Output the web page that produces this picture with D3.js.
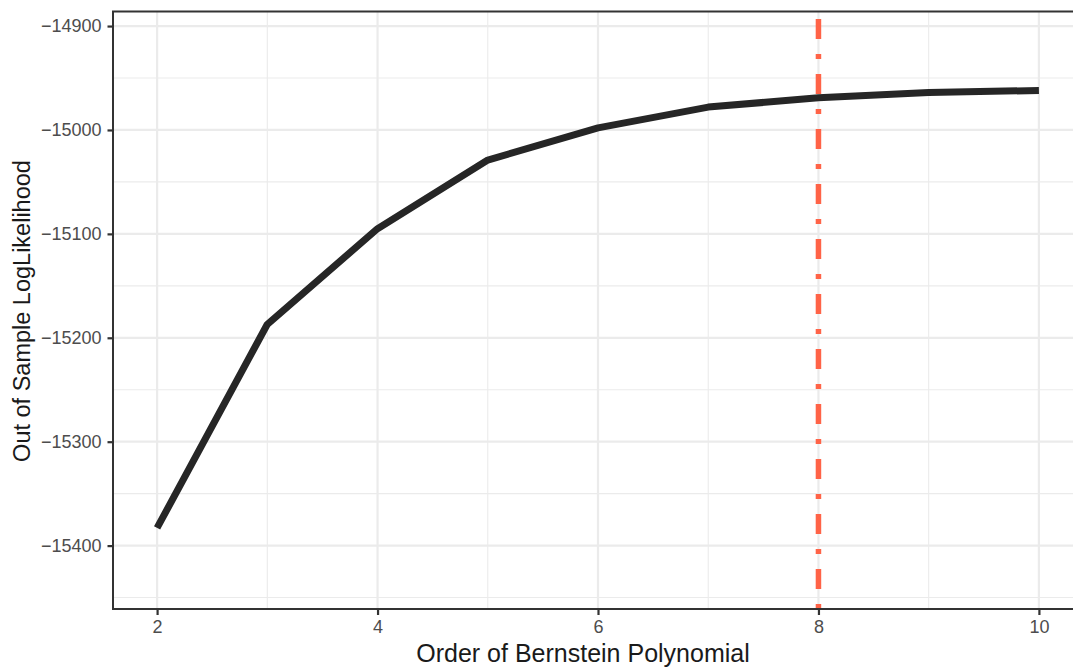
<!DOCTYPE html>
<html><head><meta charset="utf-8">
<script src="https://cdn.jsdelivr.net/npm/d3@7"></script>
<style>body{margin:0;background:#fff}svg{display:block}</style>
</head><body>
<svg id="c" width="1073" height="669"></svg>
<script>
const orders = [2, 3, 4, 5, 6, 7, 8, 9, 10];
const logLik = [-15383, -15187, -15095, -15029, -14998, -14978, -14969, -14964, -14962];
const xTicks = [2, 4, 6, 8, 10];
const xMinor = [3, 5, 7, 9];
const yTicks = [-15400, -15300, -15200, -15100, -15000, -14900];
const yMinor = [-15450, -15350, -15250, -15150, -15050, -14950];
const chosenOrder = 8;

const svg = d3.select("#c");
const L = 113, R = 1083, T = 11.5, B = 609;
const x = d3.scaleLinear().domain([1.6, 10.4]).range([L, R]);
const y = d3.scaleLinear().domain([-15461, -14886]).range([B, T]);
const font = "'Liberation Sans', Arial, Helvetica, sans-serif";

const g = svg.append("g");
// minor grid
g.selectAll(".ymin").data(yMinor).enter().append("line")
  .attr("x1", L).attr("x2", R).attr("y1", d => y(d)).attr("y2", d => y(d))
  .attr("stroke", "#EBEBEB").attr("stroke-width", 1.1);
g.selectAll(".xmin").data(xMinor).enter().append("line")
  .attr("y1", T).attr("y2", B).attr("x1", d => x(d)).attr("x2", d => x(d))
  .attr("stroke", "#EBEBEB").attr("stroke-width", 1.1);
// major grid
g.selectAll(".ymaj").data(yTicks).enter().append("line")
  .attr("x1", L).attr("x2", R).attr("y1", d => y(d)).attr("y2", d => y(d))
  .attr("stroke", "#EBEBEB").attr("stroke-width", 2.2);
g.selectAll(".xmaj").data(xTicks).enter().append("line")
  .attr("y1", T).attr("y2", B).attr("x1", d => x(d)).attr("x2", d => x(d))
  .attr("stroke", "#EBEBEB").attr("stroke-width", 2.2);

// data line
const line = d3.line().x((d, i) => x(orders[i])).y(d => y(d));
g.append("path").datum(logLik).attr("d", line)
  .attr("fill", "none").attr("stroke", "#262626").attr("stroke-width", 7)
  .attr("stroke-linejoin", "round").attr("stroke-linecap", "butt");

// vertical line (drawn bottom to top)
g.append("line").attr("x1", x(chosenOrder)).attr("x2", x(chosenOrder))
  .attr("y1", B).attr("y2", T)
  .attr("stroke", "#FF6347").attr("stroke-width", 5.5)
  .attr("stroke-dasharray", "5,15,20,15");

// panel border
g.append("rect").attr("x", L).attr("y", T).attr("width", R - L).attr("height", B - T)
  .attr("fill", "none").attr("stroke", "#333333").attr("stroke-width", 2);

// axes
const ax = svg.append("g").attr("transform", `translate(0,${B})`)
  .call(d3.axisBottom(x).tickValues(xTicks).tickSize(6).tickPadding(5).tickFormat(d3.format("d")));
const ay = svg.append("g").attr("transform", `translate(${L},0)`)
  .call(d3.axisLeft(y).tickValues(yTicks).tickSize(5.5).tickPadding(6).tickFormat(d3.format("d")));
[ax, ay].forEach(a => {
  a.select(".domain").remove();
  a.selectAll(".tick line").attr("stroke", "#333333").attr("stroke-width", 2.2);
  a.selectAll(".tick text").attr("fill", "#4D4D4D").style("font-family", font).style("font-size", "18px");
});

// titles
svg.append("text").attr("x", 583).attr("y", 662).attr("text-anchor", "middle")
  .style("font-family", font).style("font-size", "25px").attr("fill", "#1a1a1a")
  .text("Order of Bernstein Polynomial");
svg.append("text").attr("transform", "translate(30,311) rotate(-90)").attr("text-anchor", "middle")
  .style("font-family", font).style("font-size", "23.5px").attr("fill", "#1a1a1a")
  .text("Out of Sample LogLikelihood");
</script>
</body></html>
